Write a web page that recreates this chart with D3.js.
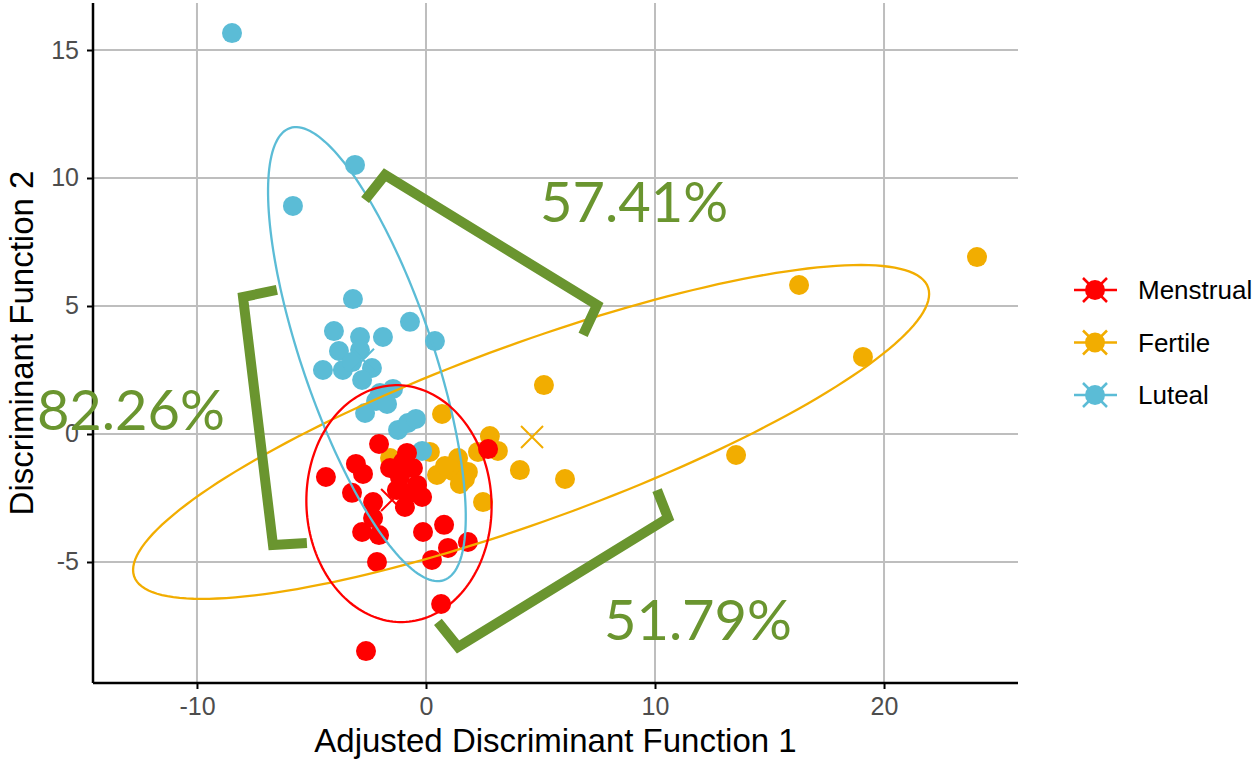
<!DOCTYPE html>
<html>
<head>
<meta charset="utf-8">
<script src="https://cdn.jsdelivr.net/npm/d3@7"></script>
<style>
  body { margin: 0; background: #fff; }
  svg { display: block; }
</style>
</head>
<body>
<svg id="chart" width="1256" height="761"></svg>
<script>
// groups and colours
const groups = ["Menstrual", "Fertile", "Luteal"];
const colors = { Menstrual: "#FF0000", Fertile: "#F2AD00", Luteal: "#5BBCD6" };

// points [LD1, LD2]
const menstrual = [
  [-2.05, -0.39], [-4.37, -1.68], [-3.06, -1.17], [-2.75, -1.56], [-3.23, -2.30],
  [-2.31, -2.66], [-2.31, -3.28], [-2.79, -3.83], [-2.05, -3.95], [-2.14, -5.00],
  [-0.83, -0.74], [-1.57, -1.33], [-1.14, -1.68], [-0.57, -1.33], [-0.39, -1.99],
  [-0.17, -2.46], [-0.92, -2.85], [-1.27, -2.19], [-0.70, -2.30], [-1.00, -1.09],
  [-0.13, -3.83], [0.79, -3.55], [0.96, -4.45], [0.26, -4.92], [1.83, -4.22],
  [2.71, -0.59], [0.66, -6.64], [-2.62, -8.48]
];
const fertile = [
  [24.06, 6.91], [16.29, 5.82], [19.08, 3.01], [13.54, -0.82], [5.15, 1.91],
  [6.07, -1.76], [4.10, -1.41], [0.70, 0.78], [2.79, -0.08], [3.14, -0.66],
  [2.27, -0.70], [1.40, -0.94], [1.83, -1.48], [1.18, -1.45], [0.48, -1.60],
  [1.70, -1.76], [2.49, -2.66], [0.17, -0.70], [-1.57, -0.94], [1.48, -1.95],
  [0.83, -1.25]
];
const luteal = [
  [-8.47, 15.66], [-5.81, 8.91], [-3.10, 10.51], [-3.19, 5.27], [-4.02, 4.02],
  [-2.88, 3.79], [-1.88, 3.79], [-0.70, 4.38], [0.39, 3.63], [-3.80, 3.24],
  [-2.88, 3.28], [-4.50, 2.50], [-3.63, 2.50], [-2.36, 2.58], [-2.79, 2.11],
  [-2.01, 1.60], [-1.44, 1.76], [-2.18, 1.29], [-1.70, 1.17], [-2.66, 0.82],
  [-1.22, 0.16], [-0.79, 0.43], [-0.44, 0.59], [-0.17, -0.66], [-3.23, 2.81]
];

// group centroids (drawn as x)
const centroids = { Menstrual: [-1.48, -2.58], Fertile: [4.63, -0.12], Luteal: [-2.75, 2.9] };

// 95% ellipses: centre and two conjugate half-axes, data units
const ellipses = {
  Fertile:   { c: [4.59, 0.08], a: [17.38, 5.39], b: [0, 3.67] },
  Luteal:    { c: [-2.58, 3.12], a: [-3.36, 8.83], b: [2.71, 0.82] },
  Menstrual: { c: [-1.18, -2.72], a: [-0.44, 4.61], b: [4.02, 0.39] }
};

// green annotation brackets and labels
const brackets = [
  [[-2.66, 9.14], [-1.79, 10.12], [7.47, 5.04], [6.86, 3.87]],
  [[-6.51, 5.63], [-7.99, 5.35], [-6.68, -4.34], [-5.20, -4.26]],
  [[0.52, -7.34], [1.40, -8.32], [10.57, -3.28], [10.09, -2.19]]
];
const notes = [
  { text: "57.41%", at: [4.98, 8.28] },
  { text: "82.26%", at: [-16.99, 0.16] },
  { text: "51.79%", at: [7.77, -8.05] }
];

const xTicks = [-10, 0, 10, 20];
const yTicks = [-5, 0, 5, 10, 15];

const svg = d3.select("#chart");
const mLeft = 93, mRight = 1018, mTop = 3, mBottom = 683;

const x = d3.scaleLinear().domain([-14.54, 25.85]).range([mLeft, mRight]);
const y = d3.scaleLinear().domain([-9.727, 16.836]).range([mBottom, mTop]);

// grid
svg.append("g").selectAll("line").data(xTicks).join("line")
  .attr("x1", d => x(d)).attr("x2", d => x(d))
  .attr("y1", mTop).attr("y2", mBottom)
  .attr("stroke", "#bebebe").attr("stroke-width", 2);
svg.append("g").selectAll("line").data(yTicks).join("line")
  .attr("x1", mLeft).attr("x2", mRight)
  .attr("y1", d => y(d)).attr("y2", d => y(d))
  .attr("stroke", "#bebebe").attr("stroke-width", 2);

// axes
const fmt = d => String(d);
const xAxis = svg.append("g").attr("transform", `translate(0,${mBottom})`)
  .call(d3.axisBottom(x).tickValues(xTicks).tickFormat(fmt).tickSize(6).tickPadding(8));
const yAxis = svg.append("g").attr("transform", `translate(${mLeft},0)`)
  .call(d3.axisLeft(y).tickValues(yTicks).tickFormat(fmt).tickSize(6).tickPadding(8));
[xAxis, yAxis].forEach(g => {
  g.select(".domain").attr("stroke", "#000").attr("stroke-width", 2.5);
  g.selectAll(".tick line").attr("stroke", "#000").attr("stroke-width", 2);
  g.selectAll(".tick text").attr("fill", "#4d4d4d")
    .style("font-family", "Liberation Sans, Arial, sans-serif").style("font-size", "25px");
});
xAxis.select(".domain").attr("d", `M${mLeft},0H${mRight}`);
yAxis.select(".domain").attr("d", `M0,${mTop}V${mBottom}`);

// axis titles
svg.append("text").attr("x", (mLeft + mRight) / 2).attr("y", 752)
  .attr("text-anchor", "middle")
  .style("font-family", "Liberation Sans, Arial, sans-serif").style("font-size", "33px")
  .text("Adjusted Discriminant Function 1");
svg.append("text").attr("transform", `translate(33,${(mTop + mBottom) / 2}) rotate(-90)`)
  .attr("text-anchor", "middle")
  .style("font-family", "Liberation Sans, Arial, sans-serif").style("font-size", "33px")
  .text("Discriminant Function 2");

// points
const series = { Fertile: fertile, Luteal: luteal, Menstrual: menstrual };
["Fertile", "Luteal", "Menstrual"].forEach(gname => {
  svg.append("g").selectAll("circle").data(series[gname]).join("circle")
    .attr("cx", d => x(d[0])).attr("cy", d => y(d[1])).attr("r", 10)
    .attr("fill", colors[gname]);
});

// centroid crosses
const cross = 11;
groups.forEach(gname => {
  const [cx, cy] = [x(centroids[gname][0]), y(centroids[gname][1])];
  svg.append("path")
    .attr("d", `M${cx - cross},${cy - cross}L${cx + cross},${cy + cross}M${cx - cross},${cy + cross}L${cx + cross},${cy - cross}`)
    .attr("stroke", colors[gname]).attr("stroke-width", 2).attr("fill", "none");
});

// ellipses
const ts = d3.range(0, 2 * Math.PI, Math.PI / 90);
const ell = d3.line().curve(d3.curveLinearClosed);
["Fertile", "Luteal", "Menstrual"].forEach(gname => {
  const e = ellipses[gname];
  const pts = ts.map(t => [
    x(e.c[0] + e.a[0] * Math.cos(t) + e.b[0] * Math.sin(t)),
    y(e.c[1] + e.a[1] * Math.cos(t) + e.b[1] * Math.sin(t))
  ]);
  svg.append("path").attr("d", ell(pts))
    .attr("fill", "none").attr("stroke", colors[gname]).attr("stroke-width", 2.3);
});

// brackets
const green = "#6a952f";
const bline = d3.line().x(d => x(d[0])).y(d => y(d[1]));
svg.append("g").selectAll("path").data(brackets).join("path")
  .attr("d", bline).attr("fill", "none").attr("stroke", green)
  .attr("stroke-width", 10).attr("stroke-linejoin", "miter");

svg.append("g").selectAll("text").data(notes).join("text")
  .attr("x", d => x(d.at[0])).attr("y", d => y(d.at[1]))
  .attr("fill", green)
  .style("font-family", "Lato, sans-serif").style("font-size", "56px")
  .text(d => d.text);

// legend
const legend = svg.append("g");
groups.forEach((gname, i) => {
  const ly = 290 + i * 52.5, lx = 1095;
  legend.append("line").attr("x1", lx - 21).attr("x2", lx + 22).attr("y1", ly).attr("y2", ly)
    .attr("stroke", colors[gname]).attr("stroke-width", 2.5);
  legend.append("path")
    .attr("d", `M${lx - 12},${ly - 12}L${lx + 12},${ly + 12}M${lx - 12},${ly + 12}L${lx + 12},${ly - 12}`)
    .attr("stroke", colors[gname]).attr("stroke-width", 2.5);
  legend.append("circle").attr("cx", lx).attr("cy", ly).attr("r", 10).attr("fill", colors[gname]);
  legend.append("text").attr("x", 1138).attr("y", ly).attr("dy", "0.35em")
    .style("font-family", "Liberation Sans, Arial, sans-serif").style("font-size", "26px")
    .text(gname);
});
</script>
</body>
</html>
